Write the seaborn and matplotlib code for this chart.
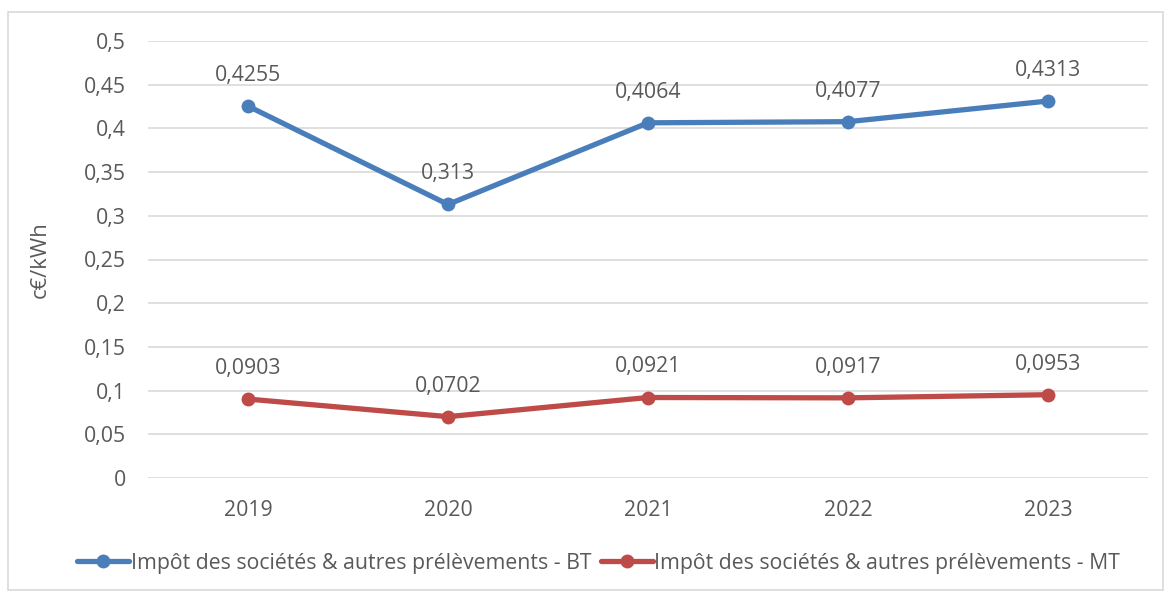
import matplotlib
matplotlib.use("Agg")
import matplotlib.pyplot as plt
import seaborn as sns
import pandas as pd
from matplotlib.patches import Rectangle
from matplotlib.ticker import FuncFormatter

years = ["2019", "2020", "2021", "2022", "2023"]
bt_values = [0.4255, 0.313, 0.4064, 0.4077, 0.4313]
mt_values = [0.0903, 0.0702, 0.0921, 0.0917, 0.0953]
bt_labels = ["0,4255", "0,313", "0,4064", "0,4077", "0,4313"]
mt_labels = ["0,0903", "0,0702", "0,0921", "0,0917", "0,0953"]
series_names = ["Impôt des sociétés & autres prélèvements - BT",
                "Impôt des sociétés & autres prélèvements - MT"]
y_ticks = [0, 0.05, 0.1, 0.15, 0.2, 0.25, 0.3, 0.35, 0.4, 0.45, 0.5]
y_label = "c€/kWh"

sns.set_theme(style="white")
plt.rcParams["font.family"] = ["Open Sans", "DejaVu Sans"]
TXT = "#595959"
FS = 15.3

df = pd.DataFrame({
    "year": years * 2,
    "x": list(range(len(years))) * 2,
    "value": bt_values + mt_values,
    "series": [series_names[0]] * len(years) + [series_names[1]] * len(years),
})

fig = plt.figure(figsize=(11.67, 5.93), dpi=100)
ax = fig.add_axes([148 / 1167, 1 - 478 / 593, 1000 / 1167, (478 - 41) / 593])

palette = {series_names[0]: "#4A7EBB", series_names[1]: "#BE4B48"}
sns.lineplot(data=df, x="x", y="value", hue="series", palette=palette,
             marker="o", markersize=10, linewidth=3.8, markeredgewidth=0,
             ax=ax, legend=True)

for i, (v, lab) in enumerate(zip(bt_values, bt_labels)):
    ax.annotate(lab, (i, v), xytext=(0, 22), textcoords="offset points",
                ha="center", va="center", fontsize=FS, color=TXT)
for i, (v, lab) in enumerate(zip(mt_values, mt_labels)):
    ax.annotate(lab, (i, v), xytext=(0, 22), textcoords="offset points",
                ha="center", va="center", fontsize=FS, color=TXT)

ax.set_xlim(-0.5, len(years) - 0.5)
ax.set_ylim(0, 0.5)
ax.set_xticks(range(len(years)))
ax.set_xticklabels(years)
ax.set_yticks(y_ticks)
ax.yaxis.set_major_formatter(FuncFormatter(lambda v, p: ("%g" % v).replace(".", ",")))
ax.tick_params(axis="both", length=0, labelsize=FS, labelcolor=TXT)
ax.tick_params(axis="x", pad=16)
ax.tick_params(axis="y", pad=16)
ax.grid(axis="y", color="#D9D9D9", linewidth=1.2)
ax.set_axisbelow(True)
for s in ax.spines.values():
    s.set_visible(False)
ax.set_xlabel("")
ax.set_ylabel(y_label, fontsize=FS + 0.5, color=TXT, labelpad=24)

handles, labels = ax.get_legend_handles_labels()
ax.legend_.remove()
fig.legend(handles, labels, loc="center",
           bbox_to_anchor=(0.5 + 15 / 1167, 1 - 563 / 593),
           ncol=2, frameon=False, fontsize=FS, labelcolor=TXT,
           handlelength=2.45, handletextpad=0.05, columnspacing=0.45)

fig.patches.append(Rectangle((8 / 1167, 1 - 590 / 593), 1155 / 1167, 578 / 593,
                             transform=fig.transFigure, fill=False,
                             edgecolor="#D9D9D9", linewidth=1.2))

fig.savefig("out.png", dpi=100)
